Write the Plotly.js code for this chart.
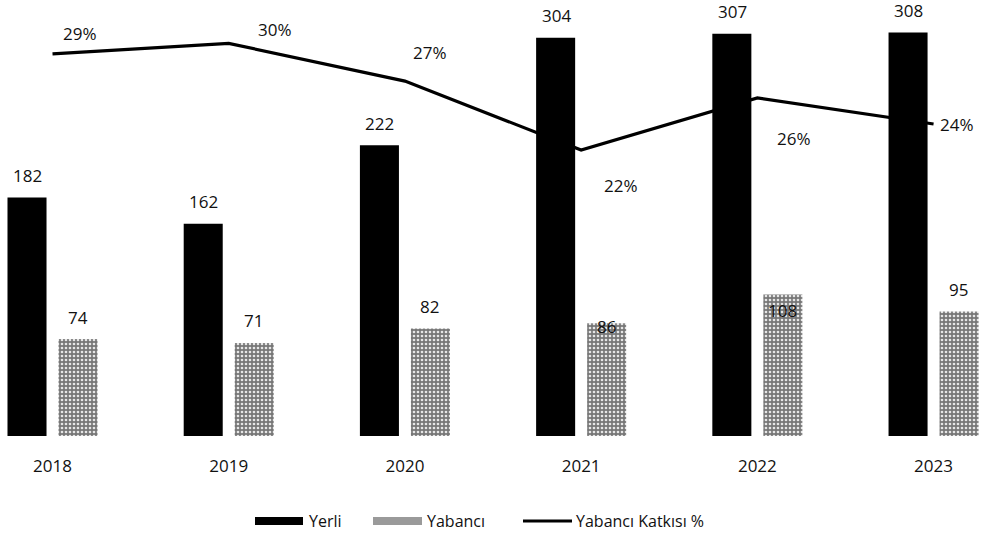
<!DOCTYPE html>
<html>
<head>
<meta charset="utf-8">
<script src="https://cdn.plot.ly/plotly-3.0.1.min.js"></script>
<style>html,body{margin:0;padding:0;background:#fff;}#chart{width:994px;height:537px;}</style>
</head>
<body>
<div id="chart"></div>
<script>
const years = ['2018', '2019', '2020', '2021', '2022', '2023'];
const yerli = [182, 162, 222, 304, 307, 308];
const yabanci = [74, 71, 82, 86, 108, 95];
const katki = [29.4, 30.2, 27.3, 22.0, 26.0, 24.0];
const katkiLabels = ['29%', '30%', '27%', '22%', '26%', '24%'];
const seriesNames = ['Yerli', 'Yabancı', 'Yabancı Katkısı %'];

// label placement (style only)
const yabanciLabelShift = [22, 22, 22, -3, -16, 22];
const katkiLabelDx = [27, 46, 25, 40, 37, 23];
const katkiLabelDy = [20, 14, 29, -35, -40, 0];

const FONT = 'Open Sans, Noto Sans, sans-serif';
const W = 994, H = 537, T = 6, B = 101;
const PH = H - T - B;
const px = v => v / W;                 // pixel x -> paper
const py = v => (H - B - v) / PH;      // pixel y -> paper

const traces = [
  {
    type: 'scatter', mode: 'lines', name: seriesNames[2],
    x: years, y: katki, xaxis: 'x', yaxis: 'y',
    line: {color: '#000', width: 3.2}, hoverinfo: 'skip'
  },
  {
    type: 'bar', name: seriesNames[0], x: years, y: yerli, xaxis: 'x', yaxis: 'y2',
    marker: {color: '#000', line: {width: 0}}
  },
  {
    type: 'bar', name: seriesNames[1], x: years, y: yabanci, xaxis: 'x', yaxis: 'y2',
    marker: {color: '#8c8c8c', line: {width: 0},
      pattern: {shape: '.', fgcolor: '#e6e6e6', bgcolor: '#777777', size: 4, solidity: 0.35}}
  }
];

const annotations = [];
years.forEach((yr, i) => {
  annotations.push({x: i, y: yerli[i], xref: 'x', yref: 'y2', text: String(yerli[i]),
    showarrow: false, xshift: -25, yshift: 22, font: {family: FONT, size: 17, color: '#111'}});
  annotations.push({x: i, y: yabanci[i], xref: 'x', yref: 'y2', text: String(yabanci[i]),
    showarrow: false, xshift: 25, yshift: yabanciLabelShift[i], font: {family: FONT, size: 17, color: '#111'}});
  annotations.push({x: i, y: katki[i], xref: 'x', yref: 'y', text: katkiLabels[i],
    showarrow: false, xshift: katkiLabelDx[i], yshift: katkiLabelDy[i], font: {family: FONT, size: 17, color: '#111'}});
});

// custom legend (wide swatches like the reference)
const legY = 521;
const legText = [307, 425, 574];
seriesNames.forEach((n, i) => {
  annotations.push({x: px(legText[i]), y: py(legY), xref: 'paper', yref: 'paper', text: n,
    xanchor: 'left', yanchor: 'middle', showarrow: false,
    font: {family: FONT, size: 16, color: '#111'}});
});
const shapes = [
  {type: 'rect', xref: 'paper', yref: 'paper', x0: px(255), x1: px(303), y0: py(legY - 4), y1: py(legY + 4),
    fillcolor: '#000', line: {width: 0}},
  {type: 'rect', xref: 'paper', yref: 'paper', x0: px(373), x1: px(422), y0: py(legY - 4), y1: py(legY + 4),
    fillcolor: '#9a9a9a', line: {width: 0}},
  {type: 'line', xref: 'paper', yref: 'paper', x0: px(523), x1: px(572), y0: py(legY), y1: py(legY),
    line: {color: '#000', width: 3}}
];

const hiddenAxis = {showgrid: false, zeroline: false, showline: false, showticklabels: false, ticks: ''};

const layout = {
  width: W, height: H,
  margin: {l: 0, r: 0, t: T, b: B},
  paper_bgcolor: '#fff', plot_bgcolor: 'rgba(0,0,0,0)',
  showlegend: false,
  barmode: 'group', bargap: 0.421, bargroupgap: 0.235,
  font: {family: FONT, size: 17, color: '#111'},
  xaxis: {
    type: 'category', range: [-0.298, 5.343], showgrid: false, zeroline: false,
    showline: false, ticks: '', ticklabelstandoff: 18,
    tickfont: {family: FONT, size: 17, color: '#111'}
  },
  yaxis: Object.assign({range: [0, PH / 13]}, hiddenAxis),
  yaxis2: Object.assign({range: [0, PH / 1.31], overlaying: 'y', side: 'right'}, hiddenAxis),
  annotations: annotations,
  shapes: shapes
};

Plotly.newPlot('chart', traces, layout, {displayModeBar: false, staticPlot: true});
</script>
</body>
</html>
